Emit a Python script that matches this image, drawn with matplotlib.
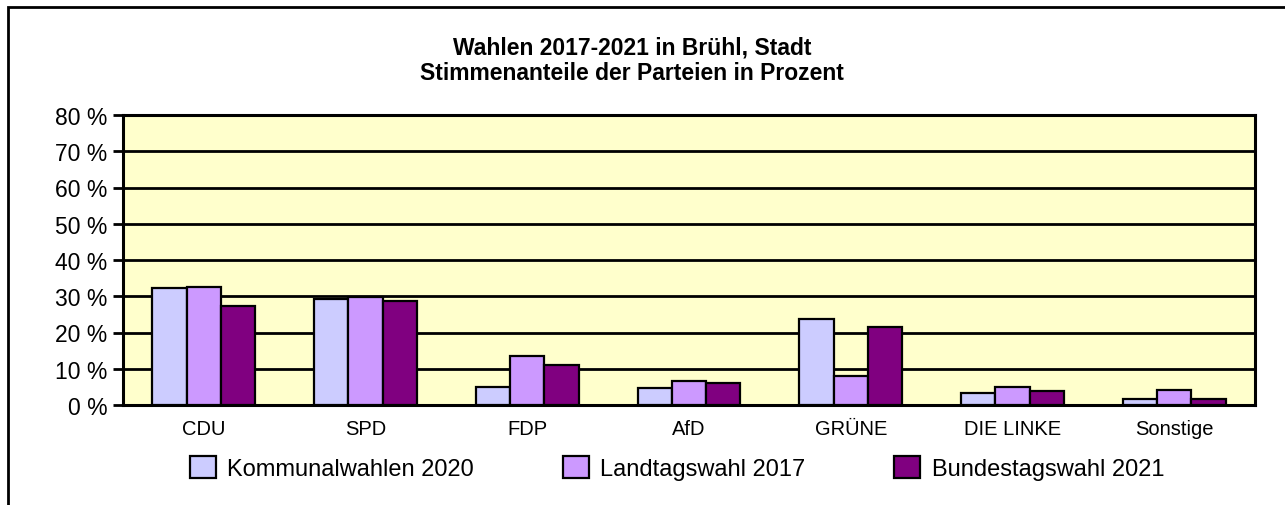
import numpy as np
import matplotlib.pyplot as plt
from matplotlib.patches import Rectangle

plt.rcParams['font.family'] = ['Liberation Sans', 'DejaVu Sans']

parteien = ["CDU", "SPD", "FDP", "AfD", "GRÜNE", "DIE LINKE", "Sonstige"]
kommunal_2020 = [32.3, 29.2, 5.0, 4.8, 23.7, 3.3, 1.7]
landtag_2017 = [32.6, 29.8, 13.5, 6.5, 8.0, 4.9, 4.2]
bundestag_2021 = [27.3, 28.7, 11.0, 6.2, 21.5, 3.8, 1.7]
serien = ["Kommunalwahlen 2020", "Landtagswahl 2017", "Bundestagswahl 2021"]
farben = ["#CCCCFF", "#CC99FF", "#800080"]

fig = plt.figure(figsize=(12.85, 5.06), dpi=100)
ax = fig.add_axes([123/1285, 1-406/506, 1132/1285, 290/506])
ax.set_facecolor("#FFFFCC")

x = np.arange(len(parteien))
w = 0.212
for i, (vals, lab, col) in enumerate(zip([kommunal_2020, landtag_2017, bundestag_2021], serien, farben)):
    ax.bar(x + (i-1)*w, vals, width=w, color=col, edgecolor="black", linewidth=1.6, label=lab, zorder=3)

ax.set_xlim(-0.5, len(parteien)-0.5)
ax.set_ylim(0, 80)
ax.set_yticks(range(0, 81, 10))
ax.set_yticklabels([f"{v} %" for v in range(0, 81, 10)], fontsize=16.5)
ax.set_xticks(x)
ax.set_xticklabels(parteien, fontsize=14.5)
ax.tick_params(axis="x", length=0, pad=10)
ax.tick_params(axis="y", length=7, width=2, pad=4)
ax.yaxis.grid(True, color="black", linewidth=2, zorder=1)
for s in ax.spines.values():
    s.set_linewidth(2.2)

fig.text(0.492, 1-48/506, "Wahlen 2017-2021 in Brühl, Stadt", ha="center", va="center",
         fontsize=16.5, fontweight="bold")
fig.text(0.492, 1-73/506, "Stimmenanteile der Parteien in Prozent", ha="center", va="center",
         fontsize=16.5, fontweight="bold")

fig.legend(loc="center", bbox_to_anchor=(677/1285, 1-469/506), ncol=3, frameon=False,
           fontsize=17, handlelength=1.1, handleheight=1.1, handletextpad=0.5,
           columnspacing=3.75)

fig.add_artist(Rectangle((8/1285, -0.1), 1.2, 1-8/506+0.1, transform=fig.transFigure,
                         fill=False, edgecolor="black", linewidth=2, clip_on=False))

fig.savefig("out.png", dpi=100)
